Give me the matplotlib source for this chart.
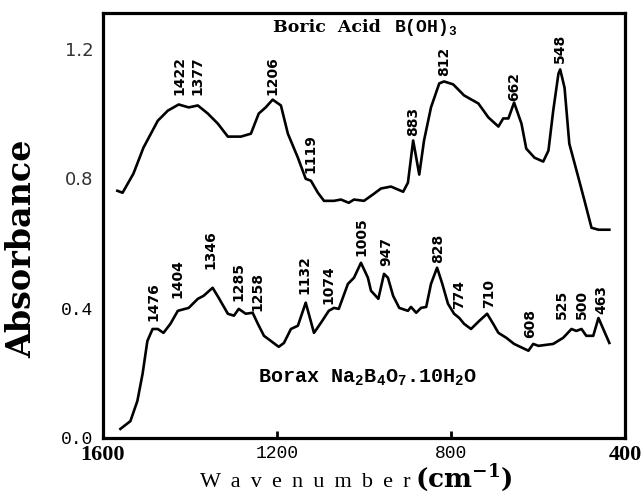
import matplotlib.pyplot as plt
from matplotlib.font_manager import FontProperties

plt.rcParams['mathtext.default'] = 'regular'

# Boric acid spectrum (upper trace)
boric_wn = [1567, 1555, 1530, 1507, 1474, 1451, 1426, 1403, 1382, 1359, 1336, 1313,
            1283, 1260, 1242, 1226, 1210, 1191, 1175, 1152, 1134, 1122, 1106, 1092,
            1069, 1053, 1035, 1023, 1000, 977, 961, 938, 910, 899, 887, 873, 862,
            846, 827, 816, 795, 770, 737, 714, 691, 680, 668, 655, 638, 627, 608,
            588, 576, 565, 553, 549, 539, 528, 507, 493, 477, 461, 436]
boric_abs = [0.762, 0.756, 0.815, 0.895, 0.978, 1.009, 1.028, 1.019, 1.025, 1.000, 0.969, 0.929,
             0.929, 0.938, 1.000, 1.019, 1.043, 1.025, 0.938, 0.864, 0.799, 0.793, 0.756, 0.731,
             0.731, 0.735, 0.725, 0.735, 0.731, 0.753, 0.769, 0.775, 0.759, 0.787, 0.917, 0.812, 0.917,
             1.019, 1.093, 1.099, 1.090, 1.056, 1.031, 0.988, 0.960, 0.985, 0.985, 1.034, 0.969, 0.892, 0.864,
             0.852, 0.886, 1.009, 1.123, 1.136, 1.080, 0.907, 0.802, 0.731, 0.648, 0.642, 0.642]

# Borax spectrum (lower trace)
borax_wn = [1560, 1537, 1521, 1509, 1498, 1486, 1474, 1461, 1445, 1428, 1403, 1382,
            1369, 1348, 1334, 1313, 1299, 1288, 1272, 1256, 1244, 1230, 1214, 1196,
            1184, 1168, 1152, 1134, 1127, 1115, 1099, 1081, 1069, 1058, 1037, 1023,
            1007, 991, 984, 967, 954, 945, 933, 919, 899, 892, 880, 869, 857, 846,
            832, 820, 807, 793, 781, 770, 754, 735, 717, 703, 691, 673, 655, 622,
            611, 599, 565, 542, 523, 512, 500, 489, 473, 461, 450, 436]
borax_abs = [0.028, 0.052, 0.114, 0.198, 0.299, 0.336, 0.336, 0.324, 0.352, 0.392, 0.401, 0.429,
             0.438, 0.463, 0.432, 0.383, 0.377, 0.398, 0.383, 0.386, 0.352, 0.315, 0.299, 0.281,
             0.293, 0.336, 0.346, 0.417, 0.383, 0.324, 0.355, 0.392, 0.401, 0.398, 0.475, 0.494,
             0.540, 0.494, 0.454, 0.429, 0.506, 0.494, 0.438, 0.401, 0.392, 0.404, 0.386, 0.401, 0.404, 0.475,
             0.525, 0.475, 0.414, 0.383, 0.370, 0.352, 0.336, 0.361, 0.383, 0.352, 0.324, 0.309, 0.290, 0.269,
             0.290, 0.284, 0.290, 0.309, 0.336, 0.330, 0.336, 0.315, 0.315, 0.370, 0.336, 0.293]

# peak labels: text, x (cm-1), y (absorbance of label foot)
boric_peaks = ['1422', '1377', '1206', '1119', '883', '812', '662', '548']
boric_peak_x = [1424, 1382, 1210, 1122, 887, 816, 655, 549]
boric_peak_y = [1.056, 1.056, 1.056, 0.818, 0.932, 1.117, 1.040, 1.157]

borax_peaks = ['1476', '1404', '1346', '1285', '1258', '1132', '1074', '1005',
               '947', '828', '774', '710', '608', '525', '500', '463']
borax_peak_x = [1484, 1428, 1352, 1288, 1244, 1136, 1081, 1007,
                949, 830, 781, 712, 618, 546, 500, 454]
borax_peak_y = [0.361, 0.432, 0.522, 0.423, 0.392, 0.444, 0.414, 0.562,
                0.531, 0.540, 0.398, 0.401, 0.309, 0.367, 0.367, 0.383]

xticks = [1600, 1200, 800, 400]
yticks = [0.0, 0.4, 0.8, 1.2]

fig = plt.figure(figsize=(6.41, 4.99), dpi=100)
ax = fig.add_axes([103 / 641, 1 - 438 / 499, 522 / 641, 425 / 499])

ax.plot(boric_wn, boric_abs, color='black', lw=1.9, solid_joinstyle='round')
ax.plot(borax_wn, borax_abs, color='black', lw=1.9, solid_joinstyle='round')

ax.set_xlim(1600, 400)
ax.set_ylim(0, 1.31)

for s in ax.spines.values():
    s.set_linewidth(2.3)

ax.set_xticks(xticks)
ax.set_xticklabels([str(t) for t in xticks])
ax.set_yticks(yticks)
ax.set_yticklabels([f'{t:.1f}' for t in yticks])
ax.tick_params(axis='x', direction='in', length=5, width=2, pad=5)
ax.tick_params(axis='y', length=0, pad=7)

bold_serif = FontProperties(family='Liberation Serif', weight='bold', size=16)
mono = FontProperties(family='Liberation Mono', size=13)
sans = FontProperties(family='DejaVu Sans', size=13)
for lab in ax.get_xticklabels():
    if lab.get_text() in ('1600', '400'):
        lab.set_fontproperties(bold_serif)
    else:
        lab.set_fontproperties(mono)
for lab in ax.get_yticklabels():
    if lab.get_text() in ('1.2', '0.8'):
        lab.set_fontproperties(sans)
        lab.set_color('#333333')
    else:
        lab.set_fontproperties(mono)

peak_font = dict(family='DejaVu Sans', weight='bold', size=10, rotation=90,
                 ha='center', va='bottom')
for t, x, y in zip(boric_peaks, boric_peak_x, boric_peak_y):
    ax.text(x, y, t, **peak_font)
for t, x, y in zip(borax_peaks, borax_peak_x, borax_peak_y):
    ax.text(x, y, t, **peak_font)

ax.text(1210, 1.25, 'Boric  Acid', family='DejaVu Serif', weight='bold', size=12.5,
        ha='left', va='baseline')
ax.text(931, 1.25, 'B(OH)$_3$', family='Liberation Mono', weight='bold', size=13,
        ha='left', va='baseline')
ax.text(1244, 0.170, 'Borax Na$_2$B$_4$O$_7$.10H$_2$O', family='Liberation Mono',
        weight='bold', size=14.5, ha='left', va='baseline')

fig.text(22 / 641, 1 - 249 / 499, 'Absorbance', family='DejaVu Serif', weight='bold',
         size=24, rotation=90, ha='center', va='center')
fig.text(200 / 641, 1 - 487 / 499, ' \u2009'.join('Wavenumber'),
         family=['Liberation Serif', 'DejaVu Serif'], size=16, ha='left', va='baseline')
fig.text(415 / 641, 1 - 487 / 499, '(cm$^{-1}$)', family='DejaVu Serif', weight='bold',
         size=19, ha='left', va='baseline')

fig.savefig('out.png', dpi=100)
